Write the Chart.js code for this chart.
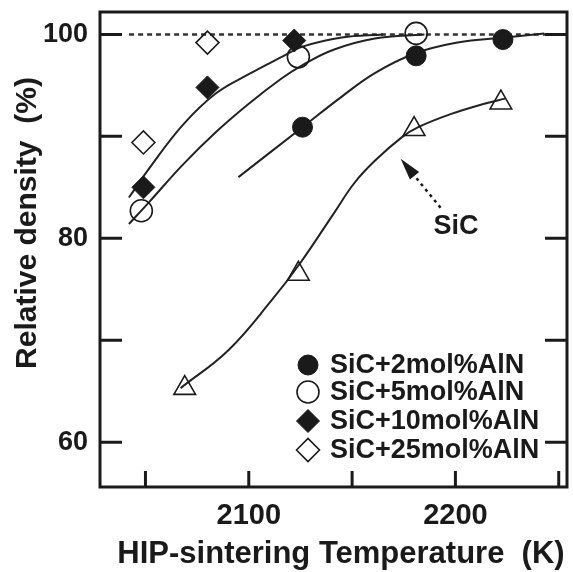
<!DOCTYPE html>
<html>
<head>
<meta charset="utf-8">
<script src="https://cdn.jsdelivr.net/npm/chart.js@4.4.1/dist/chart.umd.min.js"></script>
<style>
  html, body { margin: 0; padding: 0; background: #fff; }
  #wrap { width: 573px; height: 572px; }
</style>
</head>
<body>
<div id="wrap"><canvas id="myChart" width="573" height="572"></canvas></div>
<script>
// measured points, temperature (K) / relative density (%)
const seriesNames = ["SiC+2mol%AlN", "SiC+5mol%AlN", "SiC+10mol%AlN", "SiC+25mol%AlN", "SiC"];

const temp2 = [2126, 2181, 2223];
const dens2 = [90.9, 97.9, 99.5];
const temp5 = [2048, 2124, 2181];
const dens5 = [82.7, 97.8, 100.1];
const temp10 = [2049, 2080, 2122];
const dens10 = [85.0, 94.8, 99.4];
const temp25 = [2049, 2080];
const dens25 = [89.4, 99.2];
const tempSiC = [2069, 2124, 2180, 2222];
const densSiC = [65.3, 76.5, 90.7, 93.3];

// hand drawn trend curves
const fit10T = [2042, 2052, 2068, 2084, 2100, 2116, 2126, 2145, 2165];
const fit10D = [84.0, 86.9, 91.1, 94.2, 96.1, 97.8, 98.8, 99.7, 100.0];
const fit5T = [2042, 2052, 2068, 2084, 2100, 2116, 2126, 2141, 2161, 2185];
const fit5D = [81.4, 83.6, 87.2, 90.4, 93.2, 95.7, 97.0, 98.5, 99.6, 100.0];
const fit2T = [2095, 2126, 2145, 2161, 2180, 2201, 2224, 2243];
const fit2D = [86.0, 90.9, 93.9, 96.2, 98.1, 99.2, 99.7, 100.1];
const fitSiCT = [2067, 2090, 2111, 2125, 2141, 2151, 2161, 2174, 2182, 2198, 2214, 2224];
const fitSiCD = [65.3, 69.0, 73.9, 77.6, 82.4, 85.4, 87.6, 89.9, 90.9, 92.2, 93.2, 93.7];
const fullT = [2042, 2244];
const fullD = [100, 100];

// axes
const xTicks = [2050, 2100, 2150, 2200, 2250];
const xLabels = [2100, 2200];
const yTicks = [60, 70, 80, 90, 100];
const yLabels = [60, 80, 100];

// "SiC" note with arrow: tip, tail, text
const arrowTip = [2173.5, 87.8];
const arrowTail = [2192.8, 83.0];
const noteAt = [2200.3, 81.2];

const ink = "#1a1a1a";
const fam = "'Liberation Sans', Arial, Helvetica, sans-serif";

function pts(xs, ys) {
  return xs.map((x, i) => ({ x: x, y: ys[i] }));
}

function markerSet(label, xs, ys, style, radius, filled) {
  return {
    label: label,
    data: pts(xs, ys),
    showLine: false,
    pointStyle: style,
    pointRadius: radius,
    pointBackgroundColor: filled ? ink : "rgba(255,255,255,0)",
    pointBorderColor: ink,
    pointBorderWidth: filled ? 1 : 1.6,
  };
}

function curveSet(xs, ys, dash) {
  return {
    label: "",
    data: pts(xs, ys),
    showLine: true,
    pointRadius: 0,
    borderColor: dash ? "#333" : "#222",
    borderWidth: dash ? 2.5 : 2,
    borderDash: dash ? [5, 4] : [],
    tension: 0.4,
    fill: false,
  };
}

const frame = {
  id: "frame",
  afterDraw(chart) {
    const c = chart.ctx;
    const a = chart.chartArea;
    const xs = chart.scales.x;
    const ys = chart.scales.y;
    c.save();
    c.strokeStyle = ink;
    c.lineWidth = 3;
    c.strokeRect(a.left, a.top, a.right - a.left, a.bottom - a.top);
    c.beginPath();
    yTicks.forEach((v) => {
      const p = ys.getPixelForValue(v);
      c.moveTo(a.left, p); c.lineTo(a.left + 22, p);
      c.moveTo(a.right, p); c.lineTo(a.right - 22, p);
    });
    xTicks.forEach((v) => {
      const p = xs.getPixelForValue(v);
      c.moveTo(p, a.bottom); c.lineTo(p, a.bottom - 16);
    });
    c.stroke();

    // axis titles
    c.fillStyle = ink;
    c.font = "bold 31px " + fam;
    c.textAlign = "center";
    c.textBaseline = "alphabetic";
    c.fillText("HIP-sintering Temperature  (K)", 341, 563);
    c.save();
    c.translate(36, 223);
    c.rotate(-Math.PI / 2);
    c.font = "bold 30px " + fam;
    c.fillText("Relative density  (%)", 0, 0);
    c.restore();

    // SiC note
    const tx = xs.getPixelForValue(arrowTip[0]), ty = ys.getPixelForValue(arrowTip[1]);
    const bx = xs.getPixelForValue(arrowTail[0]), by = ys.getPixelForValue(arrowTail[1]);
    const ang = Math.atan2(ty - by, tx - bx);
    const hx = tx - Math.cos(ang) * 22, hy = ty - Math.sin(ang) * 22;
    c.setLineDash([3, 4]);
    c.lineWidth = 2.5;
    c.beginPath();
    c.moveTo(bx, by); c.lineTo(hx, hy);
    c.stroke();
    c.setLineDash([]);
    c.beginPath();
    c.moveTo(tx, ty);
    c.lineTo(hx + Math.cos(ang + Math.PI / 2) * 6, hy + Math.sin(ang + Math.PI / 2) * 6);
    c.lineTo(hx - Math.cos(ang + Math.PI / 2) * 6, hy - Math.sin(ang + Math.PI / 2) * 6);
    c.closePath();
    c.fill();
    c.font = "bold 27px " + fam;
    c.textBaseline = "middle";
    c.fillText("SiC", xs.getPixelForValue(noteAt[0]), ys.getPixelForValue(noteAt[1]));

    // legend, four AlN series only
    const rows = [365, 392, 421, 450];
    c.font = "bold 27px " + fam;
    c.textAlign = "left";
    chart.data.datasets.slice(0, 4).forEach((ds, i) => {
      c.fillStyle = ds.pointBackgroundColor;
      c.strokeStyle = ds.pointBorderColor;
      c.lineWidth = ds.pointBorderWidth;
      Chart.helpers.drawPoint(c, { pointStyle: ds.pointStyle, radius: ds.pointRadius, rotation: 0, borderWidth: ds.pointBorderWidth }, 308, rows[i]);
      c.fillStyle = ink;
      c.fillText(ds.label, 330, rows[i] + 1);
    });
    c.restore();
  },
};

const ctx = document.getElementById("myChart");

new Chart(ctx, {
  type: "scatter",
  data: {
    datasets: [
      markerSet(seriesNames[0], temp2, dens2, "circle", 10, true),
      markerSet(seriesNames[1], temp5, dens5, "circle", 11, false),
      markerSet(seriesNames[2], temp10, dens10, "rectRot", 11.5, true),
      markerSet(seriesNames[3], temp25, dens25, "rectRot", 11.5, false),
      markerSet(seriesNames[4], tempSiC, densSiC, "triangle", 12.5, false),
      curveSet(fit10T, fit10D, false),
      curveSet(fit5T, fit5D, false),
      curveSet(fit2T, fit2D, false),
      curveSet(fitSiCT, fitSiCD, false),
      curveSet(fullT, fullD, true),
    ],
  },
  options: {
    responsive: false,
    animation: false,
    layout: { autoPadding: false, padding: { top: 12, right: 6, left: 0, bottom: 0 } },
    plugins: { legend: { display: false }, tooltip: { enabled: false } },
    scales: {
      x: {
        type: "linear",
        min: 2028,
        max: 2254,
        afterBuildTicks: (s) => { s.ticks = xTicks.map((v) => ({ value: v })); },
        afterFit: (s) => { s.height = 85; s.paddingLeft = 0; s.paddingRight = 0; },
        grid: { display: false, drawTicks: false },
        border: { display: false },
        ticks: {
          padding: 12,
          maxRotation: 0,
          autoSkip: false,
          color: ink,
          font: { family: fam, size: 29, weight: "bold" },
          callback: (v) => (xLabels.includes(v) ? String(v) : ""),
        },
      },
      y: {
        type: "linear",
        min: 55.6,
        max: 102.2,
        afterBuildTicks: (s) => { s.ticks = yTicks.map((v) => ({ value: v })); },
        afterFit: (s) => { s.width = 100; s.paddingTop = 0; s.paddingBottom = 0; },
        grid: { display: false, drawTicks: false },
        border: { display: false },
        ticks: {
          padding: 12,
          autoSkip: false,
          color: ink,
          font: { family: fam, size: 27, weight: "bold" },
          callback: (v) => (yLabels.includes(v) ? String(v) : ""),
        },
      },
    },
  },
  plugins: [frame],
});
</script>
</body>
</html>
